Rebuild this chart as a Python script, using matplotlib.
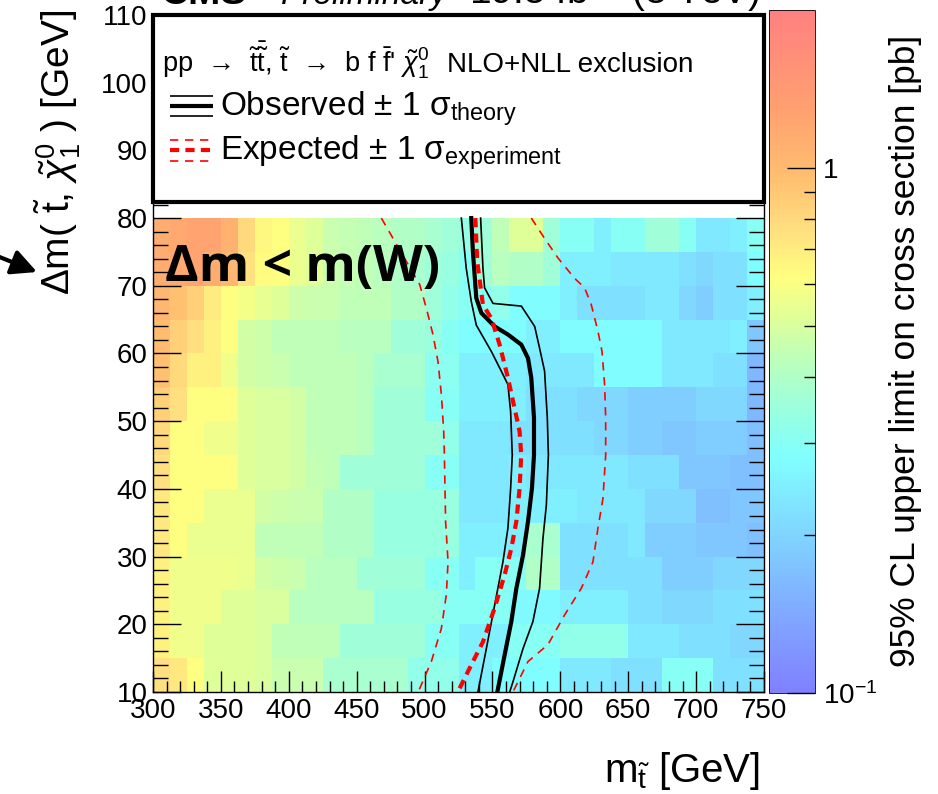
import numpy as np
import matplotlib
matplotlib.use("Agg")
import matplotlib.pyplot as plt
from matplotlib.colors import LinearSegmentedColormap, LogNorm
from matplotlib.patches import Rectangle, FancyArrowPatch
from matplotlib.ticker import FixedLocator, MultipleLocator, FixedFormatter

plt.rcParams['font.family'] = ['Liberation Sans', 'DejaVu Sans']
plt.rcParams['mathtext.fontset'] = 'custom'
plt.rcParams['mathtext.rm'] = 'Liberation Sans'
plt.rcParams['mathtext.it'] = 'Liberation Sans:italic'
plt.rcParams['mathtext.bf'] = 'Liberation Sans:bold'

# --- data ---------------------------------------------------------------
# 95% CL upper limit [pb], rows from dm = 75-80 (top) down to 10-15 (bottom),
# columns 300 -> 750 GeV in 12.5 GeV steps
x_edges = np.arange(300, 750.1, 12.5)
y_edges = np.arange(80, 9.9, -5)
limit_pb = np.array([
    [1.15, 1.20, 1.25, 1.25, 1.10, 0.80, 0.65, 0.62, 0.55, 0.52, 0.46, 0.45, 0.44, 0.42, 0.40, 0.40, 0.38, 0.36,
     0.33, 0.36, 0.44, 0.52, 0.52, 0.36, 0.30, 0.30, 0.25, 0.30, 0.30, 0.36, 0.36, 0.30, 0.235, 0.235, 0.25, 0.30],
    [1.15, 1.20, 1.25, 1.15, 1.05, 0.75, 0.63, 0.62, 0.55, 0.52, 0.46, 0.45, 0.44, 0.42, 0.40, 0.38, 0.36, 0.34,
     0.30, 0.36, 0.42, 0.40, 0.40, 0.36, 0.25, 0.25, 0.25, 0.235, 0.235, 0.235, 0.235, 0.22, 0.205, 0.22, 0.22, 0.28],
    [1.05, 0.95, 0.85, 0.70, 0.62, 0.58, 0.54, 0.52, 0.47, 0.46, 0.46, 0.44, 0.44, 0.44, 0.40, 0.40, 0.36, 0.32,
     0.30, 0.30, 0.32, 0.28, 0.28, 0.28, 0.25, 0.22, 0.22, 0.22, 0.22, 0.235, 0.235, 0.205, 0.19, 0.22, 0.22, 0.25],
    [1.00, 0.85, 0.76, 0.68, 0.62, 0.48, 0.47, 0.44, 0.44, 0.44, 0.44, 0.42, 0.42, 0.42, 0.36, 0.36, 0.34, 0.30,
     0.28, 0.28, 0.28, 0.28, 0.25, 0.25, 0.28, 0.28, 0.28, 0.28, 0.28, 0.28, 0.235, 0.235, 0.235, 0.235, 0.25, 0.18],
    [0.95, 0.80, 0.68, 0.68, 0.57, 0.48, 0.47, 0.46, 0.44, 0.44, 0.44, 0.44, 0.42, 0.38, 0.38, 0.38, 0.31, 0.31,
     0.25, 0.25, 0.25, 0.25, 0.235, 0.235, 0.235, 0.235, 0.28, 0.28, 0.28, 0.28, 0.235, 0.235, 0.235, 0.22, 0.22, 0.16],
    [0.85, 0.76, 0.62, 0.62, 0.62, 0.52, 0.50, 0.50, 0.48, 0.44, 0.44, 0.44, 0.42, 0.36, 0.36, 0.36, 0.30, 0.30,
     0.25, 0.25, 0.25, 0.25, 0.22, 0.22, 0.22, 0.205, 0.205, 0.205, 0.19, 0.19, 0.19, 0.19, 0.205, 0.205, 0.205, 0.16],
    [0.80, 0.62, 0.62, 0.57, 0.57, 0.52, 0.50, 0.50, 0.48, 0.44, 0.44, 0.44, 0.42, 0.36, 0.36, 0.36, 0.36, 0.32,
     0.235, 0.235, 0.235, 0.22, 0.22, 0.22, 0.22, 0.22, 0.205, 0.205, 0.19, 0.19, 0.18, 0.18, 0.19, 0.19, 0.19, 0.17],
    [0.76, 0.62, 0.62, 0.62, 0.62, 0.52, 0.50, 0.50, 0.48, 0.45, 0.44, 0.36, 0.36, 0.36, 0.36, 0.36, 0.30, 0.30,
     0.235, 0.235, 0.235, 0.25, 0.235, 0.235, 0.235, 0.235, 0.235, 0.235, 0.22, 0.22, 0.22, 0.18, 0.18, 0.18, 0.17, 0.17],
    [0.72, 0.62, 0.62, 0.55, 0.55, 0.55, 0.48, 0.47, 0.46, 0.46, 0.40, 0.40, 0.40, 0.34, 0.34, 0.34, 0.34, 0.34,
     0.235, 0.235, 0.235, 0.25, 0.25, 0.25, 0.25, 0.235, 0.235, 0.235, 0.235, 0.205, 0.205, 0.205, 0.17, 0.17, 0.18, 0.18],
    [0.72, 0.62, 0.55, 0.55, 0.55, 0.55, 0.44, 0.44, 0.44, 0.44, 0.40, 0.40, 0.40, 0.34, 0.34, 0.34, 0.34, 0.34,
     0.25, 0.25, 0.25, 0.25, 0.38, 0.38, 0.22, 0.22, 0.22, 0.22, 0.235, 0.19, 0.19, 0.19, 0.18, 0.18, 0.18, 0.17],
    [0.68, 0.57, 0.57, 0.57, 0.57, 0.55, 0.48, 0.47, 0.46, 0.42, 0.42, 0.42, 0.36, 0.36, 0.36, 0.36, 0.30, 0.30,
     0.25, 0.30, 0.30, 0.30, 0.40, 0.40, 0.22, 0.22, 0.22, 0.22, 0.22, 0.22, 0.19, 0.19, 0.19, 0.205, 0.205, 0.205],
    [0.68, 0.57, 0.57, 0.57, 0.52, 0.52, 0.50, 0.50, 0.42, 0.42, 0.42, 0.42, 0.42, 0.34, 0.34, 0.34, 0.34, 0.30,
     0.30, 0.30, 0.30, 0.27, 0.27, 0.27, 0.25, 0.25, 0.25, 0.25, 0.22, 0.22, 0.205, 0.205, 0.205, 0.22, 0.22, 0.22],
    [0.68, 0.57, 0.57, 0.52, 0.52, 0.52, 0.50, 0.44, 0.44, 0.44, 0.44, 0.36, 0.36, 0.36, 0.36, 0.36, 0.30, 0.30,
     0.25, 0.25, 0.25, 0.30, 0.30, 0.30, 0.32, 0.32, 0.32, 0.32, 0.235, 0.235, 0.235, 0.22, 0.22, 0.22, 0.205, 0.205],
    [0.76, 0.72, 0.62, 0.52, 0.52, 0.52, 0.50, 0.46, 0.46, 0.46, 0.38, 0.38, 0.38, 0.38, 0.38, 0.32, 0.32, 0.32,
     0.25, 0.25, 0.28, 0.28, 0.28, 0.28, 0.235, 0.235, 0.235, 0.22, 0.22, 0.22, 0.30, 0.30, 0.30, 0.22, 0.22, 0.22],
])

# exclusion contours (m_stop, dm)
obs_x = [534.4, 535.6, 538.1, 541.8, 551.6, 561.4, 571.3, 576.2, 578.6, 580.6, 580.6, 579.1, 576.2, 572.5, 567.6, 563.9, 559.0, 553.6]
obs_y = [80, 75.1, 68.2, 66.0, 64.0, 62.8, 61.3, 59.3, 56.4, 50.5, 45.0, 40.1, 35.2, 30.2, 25.3, 20.4, 15.5, 10]
obs_up_x = [541.3, 543.0, 544.2, 550.4, 571.3, 581.1, 584.7, 588.4, 590.4, 591.2, 589.7, 587.2, 584.7, 579.8, 572.5, 565.1, 562.7]
obs_up_y = [80, 72.6, 69.7, 67.4, 67.0, 64.0, 60.8, 57.4, 50.5, 45.0, 37.6, 32.7, 25.3, 20.4, 16.4, 11.5, 10]
obs_dn_x = [527.1, 530.7, 534.4, 538.1, 549.2, 556.5, 561.4, 563.4, 564.6, 563.4, 561.4, 557.7, 551.6, 545.5, 539.3]
obs_dn_y = [80, 72.6, 67.7, 64.2, 60.3, 57.4, 55.4, 51.4, 45.0, 40.1, 34.2, 29.2, 22.8, 16.4, 10]
exp_x = [537.4, 538.8, 543.0, 549.2, 555.3, 561.4, 566.3, 570.0, 571.2, 570.0, 567.6, 563.9, 559.0, 551.6, 543.0, 534.4, 524.5]
exp_y = [80, 73.6, 67.2, 65.2, 61.3, 56.4, 51.9, 48.5, 45.0, 40.1, 35.2, 31.2, 27.3, 22.4, 17.4, 14.0, 10]
exp_up_x = [578.6, 588.4, 598.3, 610.5, 617.9, 622.8, 627.7, 630.7, 632.6, 633.4, 633.4, 631.4, 627.7, 624.0, 615.4, 603.2, 590.9, 576.2, 565.1]
exp_up_y = [80, 77.0, 74.1, 71.1, 69.7, 67.2, 63.3, 60.3, 55.4, 50.5, 45.0, 38.6, 34.2, 29.2, 25.3, 21.4, 17.0, 14.5, 10]
exp_dn_x = [468.2, 476.8, 486.6, 496.4, 501.3, 506.2, 509.9, 512.4, 514.1, 514.6, 515.5, 517.3, 516.0, 512.4, 505.0, 496.4, 495.2]
exp_dn_y = [80, 77.0, 73.6, 70.2, 66.7, 62.8, 58.8, 53.9, 48.5, 45.0, 35.2, 29.2, 24.3, 19.4, 14.5, 10.5, 10]

# pastel ROOT-like palette
cmap = LinearSegmentedColormap.from_list('pastel_rainbow', [
    (0.0, '#8080ff'), (0.157, '#80b8ff'), (0.24, '#80d8ff'), (0.306, '#80f0ff'),
    (0.344, '#80ffff'), (0.428, '#a0ffd8'), (0.495, '#c0ffb8'), (0.55, '#e0ff98'),
    (0.609, '#ffff80'), (0.677, '#ffe080'), (0.752, '#ffc070'), (0.856, '#ffa070'),
    (1.0, '#ff8080')])
norm = LogNorm(vmin=0.1, vmax=2.0)

W, H = 938, 794
fig = plt.figure(figsize=(W / 100, H / 100), dpi=100)
ax = fig.add_axes([153 / W, 1 - 692 / H, 611 / W, 677 / H])

mesh = ax.pcolormesh(x_edges, y_edges, limit_pb, cmap=cmap, norm=norm, shading='flat')

thick_dash = (0, (2.2, 1.5))
thin_dash = (0, (5, 4))
ax.plot(obs_x, obs_y, color='black', lw=3.0, zorder=3)
ax.plot(obs_up_x, obs_up_y, color='black', lw=1.2, zorder=3)
ax.plot(obs_dn_x, obs_dn_y, color='black', lw=1.2, zorder=3)
ax.plot(exp_x, exp_y, color='red', lw=3.0, ls=thick_dash, zorder=3)
ax.plot(exp_up_x, exp_up_y, color='red', lw=1.2, ls=thin_dash, zorder=3)
ax.plot(exp_dn_x, exp_dn_y, color='red', lw=1.2, ls=thin_dash, zorder=3)

ax.set_xlim(300, 750)
ax.set_ylim(10, 110)
ax.xaxis.set_major_locator(MultipleLocator(50))
ax.xaxis.set_minor_locator(MultipleLocator(10))
ax.yaxis.set_major_locator(MultipleLocator(10))
ax.yaxis.set_minor_locator(MultipleLocator(2))
ax.tick_params(which='both', direction='in', top=False, right=True, labelsize=20, width=1)
ax.tick_params(which='major', length=15, pad=4)
ax.tick_params(axis='y', which='major', length=20)
ax.tick_params(which='minor', length=8)
ax.tick_params(axis='y', which='minor', length=11)
for s in ax.spines.values():
    s.set_linewidth(1.0)

# legend box
box = Rectangle((300, 82.4), 450, 27.6, facecolor='white', edgecolor='black', lw=3.0,
                zorder=5, clip_on=False)
ax.add_patch(box)
ax.text(306.6, 101.6,
        "pp  →  $\\tilde{\\mathrm{t}}\\bar{\\tilde{\\mathrm{t}}}$, $\\tilde{\\mathrm{t}}$  →  b f "
        "$\\bar{\\mathrm{f}}$' $\\tilde{\\chi}^{0}_{1}$",
        fontsize=19.5, va='baseline', ha='left', zorder=6)
ax.text(516.5, 101.6, "NLO+NLL exclusion", fontsize=20, va='baseline', ha='left', zorder=6)
lx = [312.5, 344.2]
ax.plot(lx, [96.56, 96.56], color='black', lw=3.0, zorder=6, solid_capstyle='butt')
ax.plot(lx, [98.0, 98.0], color='black', lw=1.2, zorder=6, solid_capstyle='butt')
ax.plot(lx, [95.1, 95.1], color='black', lw=1.2, zorder=6, solid_capstyle='butt')
ax.plot(lx, [90.06, 90.06], color='red', lw=3.0, ls=thick_dash, zorder=6)
ax.plot(lx, [91.5, 91.5], color='red', lw=1.2, ls=thin_dash, zorder=6)
ax.plot(lx, [88.5, 88.5], color='red', lw=1.2, ls=thin_dash, zorder=6)
ax.text(349.3, 95.2, "Observed ± 1 σ$_{\\mathrm{theory}}$", fontsize=24,
        va='baseline', ha='left', zorder=6)
ax.text(349.3, 88.7, "Expected ± 1 σ$_{\\mathrm{experiment}}$", fontsize=24,
        va='baseline', ha='left', zorder=6)

ax.text(308.8, 70.7, "Δm < m(W)", fontsize=37, fontweight='bold',
        family=['Open Sans', 'DejaVu Sans'], va='baseline', ha='left', zorder=4)

# colour bar
cax = fig.add_axes([769 / W, 1 - 693 / H, 46 / W, 683 / H])
cb = fig.colorbar(mesh, cax=cax)
cb.outline.set_linewidth(0.6)
cax.yaxis.set_major_locator(FixedLocator([0.1, 1.0]))
cax.yaxis.set_major_formatter(FixedFormatter([r'$10^{-1}$', '1']))
cax.yaxis.set_minor_locator(FixedLocator([0.2, 0.3, 0.4, 0.5, 0.6, 0.7, 0.8, 0.9]))
cax.yaxis.set_minor_formatter(FixedFormatter([''] * 8))
cax.tick_params(which='both', direction='in', right=True, left=False, labelsize=20, pad=6)
cax.tick_params(which='major', length=20, width=1)
cax.tick_params(which='minor', length=8, width=1)

fig.text(905 / W, 1 - 35 / H, "95% CL upper limit on cross section [pb]", rotation=90,
         ha='center', va='top', fontsize=25.5)
fig.text(58 / W, 1 - 10 / H, r"$\Delta$m( $\tilde{\mathrm{t}}$, $\tilde{\chi}^{0}_{1}$ ) [GeV]",
         rotation=90, ha='center', va='top', fontsize=28)
fig.text(760 / W, 1 - 782 / H, r"m$_{\tilde{\mathrm{t}}}$ [GeV]", ha='right', va='baseline', fontsize=29)

# top title, mostly cut by the page edge as in the source
fig.text(160 / W, 1 - 4 / H, "CMS", fontsize=28, fontweight='bold', ha='left', va='baseline')
fig.text(448 / W, 1 - 4 / H, "Preliminary", fontsize=24, style='italic', ha='right', va='baseline')
fig.text(760 / W, 1 - 4 / H, r"19.5 fb$^{-1}$ (8 TeV)", fontsize=28, ha='right', va='baseline')

arrow = FancyArrowPatch((-8 / W, 1 - 254 / H), (37 / W, 1 - 272 / H), transform=fig.transFigure,
                        arrowstyle='-|>', mutation_scale=38, lw=3, color='black',
                        shrinkA=0, shrinkB=0)
fig.patches.append(arrow)

fig.savefig("out.png", dpi=100)
